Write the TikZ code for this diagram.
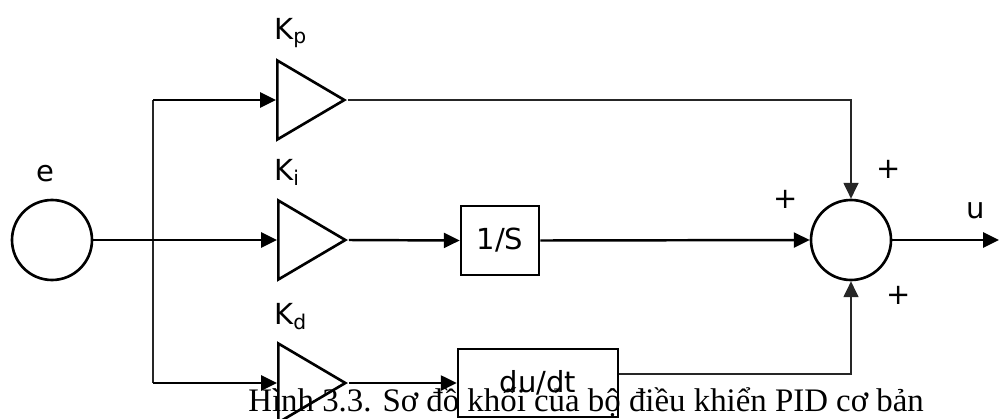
\documentclass[tikz,border=0pt]{standalone}
\usepackage{fontspec}
\setmainfont{Liberation Serif}
\newfontfamily\labelfont{DejaVu Sans}
\usetikzlibrary{shapes.geometric,arrows.meta,positioning}

\begin{document}
\begin{tikzpicture}[
    wire/.style={line width=1.4pt},
    thinwire/.style={line width=0.9pt,black!85},
    tip/.style={-{Triangle[length=9pt,width=8.5pt]}},
    gain/.style={draw,line width=1.5pt,isosceles triangle,isosceles triangle stretches,
      minimum width=1.58cm,minimum height=1.34cm,inner sep=0pt,anchor=west},
    blk/.style={draw,line width=1.5pt,rectangle,inner sep=0pt,font=\labelfont\fontsize{16.5}{20}\selectfont},
    junc/.style={draw,line width=1.5pt,circle,minimum size=1.6cm,inner sep=0pt},
    lbl/.style={font=\labelfont\fontsize{16.5}{20}\selectfont,inner sep=0pt},
  ]
  \fill[white] (0,0) rectangle (20,8.36);
  \useasboundingbox (0,0) rectangle (20,8.36);

  % input and summing junction
  \node[junc] (e) at (1.04,3.56) {};
  \node[junc] (sum) at (17.02,3.56) {};

  % P, I and D gains
  \node[gain] (kp) at (5.52,6.36) {};
  \node[gain] (ki) at (5.54,3.56) {};
  \node[gain] (kd) at (5.54,0.70) {};

  \node[blk,minimum width=1.56cm,minimum height=1.38cm] (integ) at (10.0,3.55) {1/S};
  \node[blk,minimum width=3.2cm,minimum height=1.36cm] (deriv) at (10.76,0.70) {du/dt};

  % branch points
  \coordinate (top) at (3.06,6.36);
  \coordinate (bot) at (3.06,0.70);
  \coordinate (out) at (19.98,3.56);

  \draw[thinwire] (top) -- (bot);
  \draw[wire,tip] (e.east) -- (ki.west);
  \draw[wire,tip] (top) -- (kp.west);
  \draw[wire,tip] (bot) -- (kd.west);
  \draw[wire,tip] (ki.east) -- (integ.west);
  \draw[wire,tip] (kd.east) -- (deriv.west);
  \draw[wire,tip] (integ.east) -- (sum.west);
  \draw[thinwire,tip] (kp.east) -| (sum.north);
  \draw[thinwire,tip] ([yshift=0.18cm]deriv.east) -| (sum.south);
  \draw[wire,tip] (sum.east) -- (out);

  % labels
  \node[lbl] (elabel) at (0.90,4.89) {e};
  \node[lbl,anchor=west] (kplabel) at (5.48,7.70) {K\textsubscript{p}};
  \node[lbl,anchor=west] (kilabel) at (5.48,4.92) {K\textsubscript{i}};
  \node[lbl,anchor=west] (kdlabel) at (5.48,2.02) {K\textsubscript{d}};
  \node[lbl] (plustop) at (17.78,4.98) {+};
  \node[lbl] (plusleft) at (15.72,4.38) {+};
  \node[lbl] (plusbot) at (17.98,2.46) {+};
  \node[lbl] (ulabel) at (19.52,4.14) {u};

  \node[anchor=base west,inner sep=0pt,font=\fontsize{18.7}{22}\selectfont] (caption)
    at (4.96,0.14) {Hình 3.3. Sơ đồ khối của bộ điều khiển PID cơ bản};
\end{tikzpicture}
\end{document}
